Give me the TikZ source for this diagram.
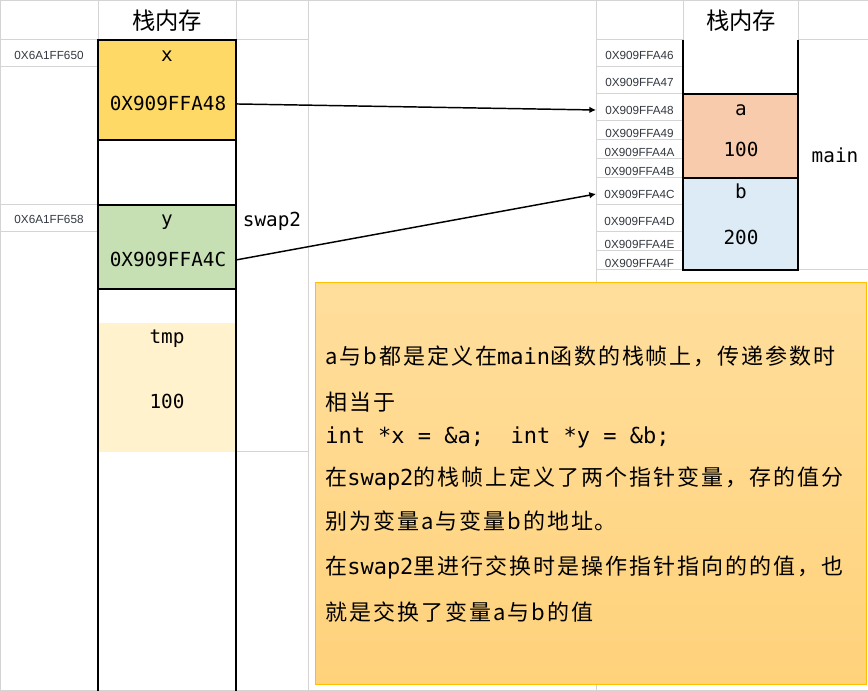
\documentclass[tikz,border=0pt]{standalone}
\usepackage{fontspec}
\setmainfont{Liberation Sans}
\newfontfamily\cjk{Noto Sans CJK SC}
\newfontfamily\cjkwide[LetterSpace=9]{Noto Sans CJK SC}
\newfontfamily\mono{DejaVu Sans Mono}
\usetikzlibrary{arrows.meta}
\definecolor{gridgray}{HTML}{D4D4D4}
\definecolor{xfill}{HTML}{FFD966}
\definecolor{yfill}{HTML}{C6E0B4}
\definecolor{tmpfill}{HTML}{FFF2CC}
\definecolor{afill}{HTML}{F8CBAD}
\definecolor{bfill}{HTML}{DDEBF7}
\definecolor{notegold}{HTML}{FFC000}
\definecolor{notetop}{HTML}{FFDE9C}
\definecolor{notebot}{HTML}{FFD27B}
\definecolor{addrgray}{HTML}{333840}
\newcommand{\code}[1]{{\mono #1}}

\begin{document}
\begin{tikzpicture}[x=0.75pt,y=-0.75pt,
  grid/.style={draw=gridgray,line width=0.75pt},
  wall/.style={draw=black,line width=1pt},
  slot/.style={draw=black,line width=1pt,minimum width=103.5pt,inner sep=0pt,outer sep=0pt},
  head/.style={font=\cjk\fontsize{17.5}{20}\selectfont,inner sep=0pt},
  val/.style={font=\mono\fontsize{14.5}{16}\selectfont,anchor=base,inner sep=0pt},
  addr/.style={font=\fontsize{8.8}{10}\selectfont,text=addrgray,minimum width=65.25pt,inner sep=0pt,outer sep=0pt},
  memo/.style={draw=notegold,line width=0.75pt,top color=notetop,bottom color=notebot,minimum width=413.25pt,minimum height=300.75pt},
  line/.style={font=\cjkwide\fontsize{16.5}{20}\selectfont,anchor=base west,inner sep=0pt},
  arrow/.style={-{Latex[length=5pt,width=5pt]},line width=1.1pt}
]
\useasboundingbox (0,0) rectangle (868,691);
\draw[grid] (0,0.5) -- (868,0.5);
\draw[grid] (0,690) -- (868,690);
\foreach \xx in {0.5,308,596} \draw[grid] (\xx,0) -- (\xx,691);
\foreach \xx in {98,236,683,798} \draw[grid] (\xx,0) -- (\xx,40);
\foreach \yy in {40,67,205,232} \draw[grid] (0,\yy) -- (98,\yy);
\draw[grid] (236,40) -- (308,40);
\draw[grid] (236,452) -- (308,452);
\foreach \yy in {40,67,94,121,140,159,178,205,232,251,270} \draw[grid] (596,\yy) -- (683,\yy);
\draw[grid] (798,40) -- (868,40);
\draw[grid] (798,270) -- (868,270);

\node[slot,fill=xfill,minimum height=75pt] (xbox) at (167,90) {};
\node[slot,fill=yfill,minimum height=63pt] (ybox) at (167,247) {};
\node[slot,draw=none,fill=tmpfill,minimum height=96.75pt] (tmpbox) at (167,387.5) {};
\draw[wall] (xbox.north west) -- (98,691);
\draw[wall] (xbox.north east) -- (236,691);
\node[slot,fill=afill,minimum width=86.25pt,minimum height=63pt] (abox) at (740.5,136) {};
\node[slot,fill=bfill,minimum width=86.25pt,minimum height=69pt] (bbox) at (740.5,224) {};
\draw[wall] (683,40) -- (abox.north west);
\draw[wall] (798,40) -- (abox.north east);

\node[head] (headL) at (167,21) {栈内存};
\node[head] (headR) at (741,21) {栈内存};
\node[addr,minimum width=73.5pt] (addrL1) at (49,55) {0X6A1FF650};
\node[addr,minimum width=73.5pt] (addrL2) at (49,219) {0X6A1FF658};
\foreach \s/\yy in {46/55,47/82,48/110,49/133,4A/152,4B/171,4C/194,4D/221,4E/244,4F/263}
  \node[addr] (a\s) at (639.5,\yy) {0X909FFA\s};

\node[val] (xname) at (167,62) {x};
\node[val] (xval) at (168,111) {0X909FFA48};
\node[val] (yname) at (167,226) {y};
\node[val] (yval) at (168,267) {0X909FFA4C};
\node[val] (tmpname) at (167,344) {tmp};
\node[val] (tmpval) at (167,409) {100};
\node[val] (swap) at (272,227) {swap2};
\node[val] (aname) at (741,116) {a};
\node[val] (aval) at (741,157) {100};
\node[val] (bname) at (741,199) {b};
\node[val] (bval) at (741,245) {200};
\node[val] (mainlab) at (835,163) {main};

\draw[arrow] (xbox.east |- xval) -- (a48.west);
\draw[arrow] (ybox.east |- yval) -- (a4C.west);

\node[memo] (memo) at (590.5,483.5) {};
\node[line] (n1) at (325,365) {a与b都是定义在\code{main}函数的栈帧上，传递参数时};
\node[line] (n2) at (325,411) {相当于};
\node[line] (n3) at (325,444) {\code{int *x = \&a;\ \ int *y = \&b;}};
\node[line] (n4) at (325,486) {在\code{swap2}的栈帧上定义了两个指针变量，存的值分};
\node[line] (n5) at (325,530) {别为变量a与变量b的地址。};
\node[line] (n6) at (325,575) {在\code{swap2}里进行交换时是操作指针指向的的值，也};
\node[line] (n7) at (325,620) {就是交换了变量a与b的值};
\end{tikzpicture}
\end{document}
